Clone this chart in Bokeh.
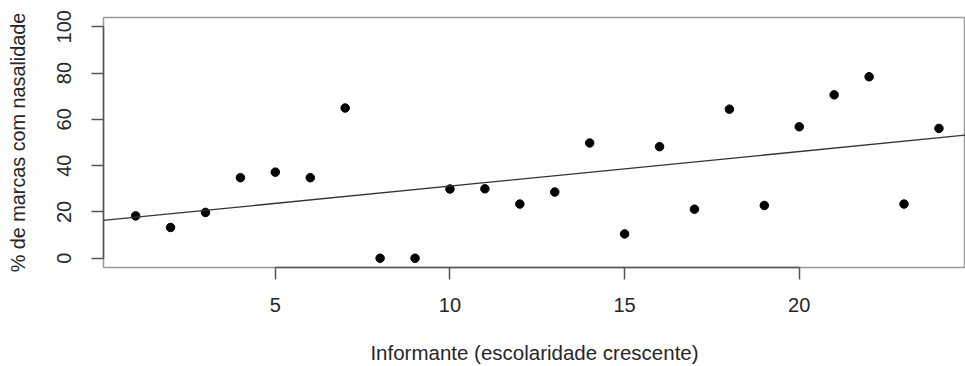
import numpy as np
from bokeh.plotting import figure
from bokeh.models import Range1d, FixedTicker, Slope, ColumnDataSource
from bokeh.embed import file_html
from bokeh.resources import INLINE

informante = list(range(1, 25))
pct_nasal = [18.3, 13.3, 19.8, 34.8, 37.2, 34.8, 64.9, 0.0, 0.0, 29.9, 30.0, 23.4,
             28.6, 49.8, 10.5, 48.2, 21.2, 64.4, 22.8, 56.8, 70.6, 78.4, 23.4, 56.1]
x_ticks = [5, 10, 15, 20]
y_ticks = [0, 20, 40, 60, 80, 100]
x_label = "Informante (escolaridade crescente)"
y_label = "% de marcas com nasalidade"

FONT = "Liberation Sans"

p = figure(width=965, height=366, output_backend="svg", toolbar_location=None,
           x_range=Range1d(0.08, 24.76), y_range=Range1d(-4, 104),
           min_border_left=103, min_border_right=0, min_border_top=17, min_border_bottom=99)

p.background_fill_color = "white"
p.border_fill_color = "white"
p.grid.visible = False
p.outline_line_color = "#9a9a9a"
p.outline_line_width = 1.5

src = ColumnDataSource(dict(x=informante, y=pct_nasal))
p.scatter("x", "y", source=src, size=8.5, color="black")

coef = np.polyfit(informante, pct_nasal, 1)
p.add_layout(Slope(gradient=float(coef[0]), y_intercept=float(coef[1]),
                   line_color="#333333", line_width=1.3))

for ax in (p.xaxis[0], p.yaxis[0]):
    ax.axis_line_color = "#555555"
    ax.axis_line_width = 1.5
    ax.major_tick_line_color = "#555555"
    ax.major_tick_line_width = 1.5
    ax.major_tick_in = 0
    ax.major_tick_out = 12
    ax.minor_tick_line_color = None
    ax.major_label_text_font = FONT
    ax.major_label_text_font_size = "20px"
    ax.major_label_text_color = "#262626"
    ax.axis_label_text_font = FONT
    ax.axis_label_text_font_style = "normal"
    ax.axis_label_text_color = "#262626"

p.xaxis.axis_label_text_font_size = "20.5px"
p.yaxis.axis_label_text_font_size = "19.8px"
p.xaxis.ticker = FixedTicker(ticks=x_ticks)
p.yaxis.ticker = FixedTicker(ticks=y_ticks)
p.xaxis.bounds = (x_ticks[0], x_ticks[-1])
p.yaxis.bounds = (y_ticks[0], y_ticks[-1])
p.xaxis.axis_label = x_label
p.yaxis.axis_label = y_label
p.xaxis.major_label_standoff = 18
p.xaxis.axis_label_standoff = 26
p.yaxis.major_label_orientation = "vertical"
p.yaxis.major_label_standoff = 20
p.yaxis.axis_label_standoff = 26

open("out.html", "w").write(file_html(p, INLINE))
